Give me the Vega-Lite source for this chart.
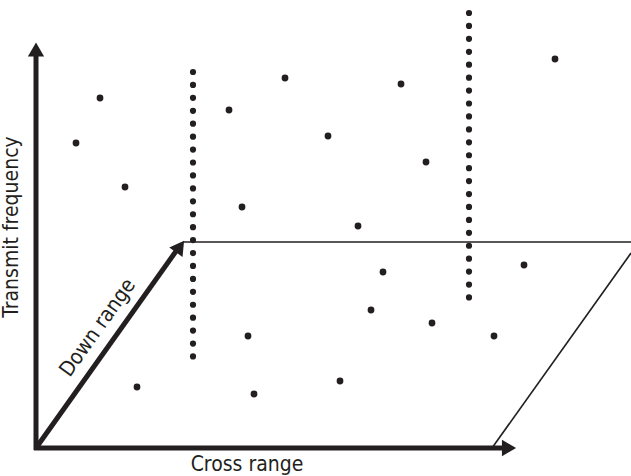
{
  "$schema": "https://vega.github.io/schema/vega-lite/v6.json",
  "width": 631,
  "height": 476,
  "padding": 0,
  "autosize": "none",
  "background": "white",
  "config": {"view": {"stroke": null}, "axis": {"disable": true}},
  "layer": [
    {
      "data": {"values": [
        {"x": 36, "y": 450, "x2": 36, "y2": 50},
        {"x": 34, "y": 448, "x2": 508, "y2": 448},
        {"x": 36, "y": 448, "x2": 179, "y2": 247}
      ]},
      "mark": {"type": "rule", "strokeWidth": 5, "color": "#231f20", "strokeCap": "butt"},
      "encoding": {
        "x": {"field": "x", "type": "quantitative", "scale": {"domain": [0, 631], "nice": false, "zero": false}, "axis": null},
        "y": {"field": "y", "type": "quantitative", "scale": {"domain": [0, 476], "nice": false, "zero": false, "reverse": true}, "axis": null},
        "x2": {"field": "x2"},
        "y2": {"field": "y2"}
      }
    },
    {
      "data": {"values": [
        {"x": 183, "y": 242, "x2": 631, "y2": 242},
        {"x": 492, "y": 448, "x2": 631, "y2": 253}
      ]},
      "mark": {"type": "rule", "strokeWidth": 1.6, "color": "#231f20"},
      "encoding": {
        "x": {"field": "x", "type": "quantitative", "scale": {"domain": [0, 631], "nice": false, "zero": false}},
        "y": {"field": "y", "type": "quantitative", "scale": {"domain": [0, 476], "nice": false, "zero": false, "reverse": true}},
        "x2": {"field": "x2"},
        "y2": {"field": "y2"}
      }
    },
    {
      "data": {"values": [
        {"x": 36, "y": 49.5, "angle": 0},
        {"x": 509, "y": 448, "angle": 90},
        {"x": 180, "y": 246.5, "angle": 35.5}
      ]},
      "mark": {"type": "point", "shape": "triangle-up", "filled": true, "size": 265, "color": "#231f20", "opacity": 1},
      "encoding": {
        "x": {"field": "x", "type": "quantitative", "scale": {"domain": [0, 631], "nice": false, "zero": false}},
        "y": {"field": "y", "type": "quantitative", "scale": {"domain": [0, 476], "nice": false, "zero": false, "reverse": true}},
        "angle": {"field": "angle", "type": "quantitative", "scale": null}
      }
    },
    {
      "data": {"values": [
        {"x": 193, "y": 72, "x2": 193, "y2": 357},
        {"x": 469, "y": 13, "x2": 469, "y2": 299}
      ]},
      "mark": {"type": "rule", "strokeWidth": 6.2, "color": "#231f20", "strokeCap": "round", "strokeDash": [0.01, 12.92]},
      "encoding": {
        "x": {"field": "x", "type": "quantitative", "scale": {"domain": [0, 631], "nice": false, "zero": false}},
        "y": {"field": "y", "type": "quantitative", "scale": {"domain": [0, 476], "nice": false, "zero": false, "reverse": true}},
        "x2": {"field": "x2"},
        "y2": {"field": "y2"}
      }
    },
    {
      "data": {"values": [
        {"x": 100, "y": 98}, {"x": 76, "y": 143}, {"x": 125, "y": 187},
        {"x": 229, "y": 110}, {"x": 285, "y": 78}, {"x": 242, "y": 207},
        {"x": 401, "y": 84}, {"x": 328, "y": 136}, {"x": 426, "y": 162},
        {"x": 358, "y": 226}, {"x": 555, "y": 59}, {"x": 383, "y": 272},
        {"x": 371, "y": 310}, {"x": 432, "y": 323}, {"x": 524, "y": 265},
        {"x": 494, "y": 336}, {"x": 248, "y": 336}, {"x": 137, "y": 387},
        {"x": 254, "y": 394}, {"x": 340, "y": 381}
      ]},
      "mark": {"type": "circle", "size": 46, "color": "#231f20", "opacity": 1},
      "encoding": {
        "x": {"field": "x", "type": "quantitative", "scale": {"domain": [0, 631], "nice": false, "zero": false}},
        "y": {"field": "y", "type": "quantitative", "scale": {"domain": [0, 476], "nice": false, "zero": false, "reverse": true}}
      }
    },
    {
      "data": {"values": [
        {"x": 12, "y": 227, "label": "Transmit frequency", "angle": 270},
        {"x": 247, "y": 465, "label": "Cross range", "angle": 0},
        {"x": 98, "y": 328, "label": "Down range", "angle": 305.5}
      ]},
      "mark": {"type": "text", "font": "DejaVu Sans Condensed", "fontSize": 21, "color": "#231f20", "align": "center", "baseline": "middle"},
      "encoding": {
        "x": {"field": "x", "type": "quantitative", "scale": {"domain": [0, 631], "nice": false, "zero": false}},
        "y": {"field": "y", "type": "quantitative", "scale": {"domain": [0, 476], "nice": false, "zero": false, "reverse": true}},
        "text": {"field": "label"},
        "angle": {"field": "angle", "type": "quantitative", "scale": null}
      }
    }
  ]
}
